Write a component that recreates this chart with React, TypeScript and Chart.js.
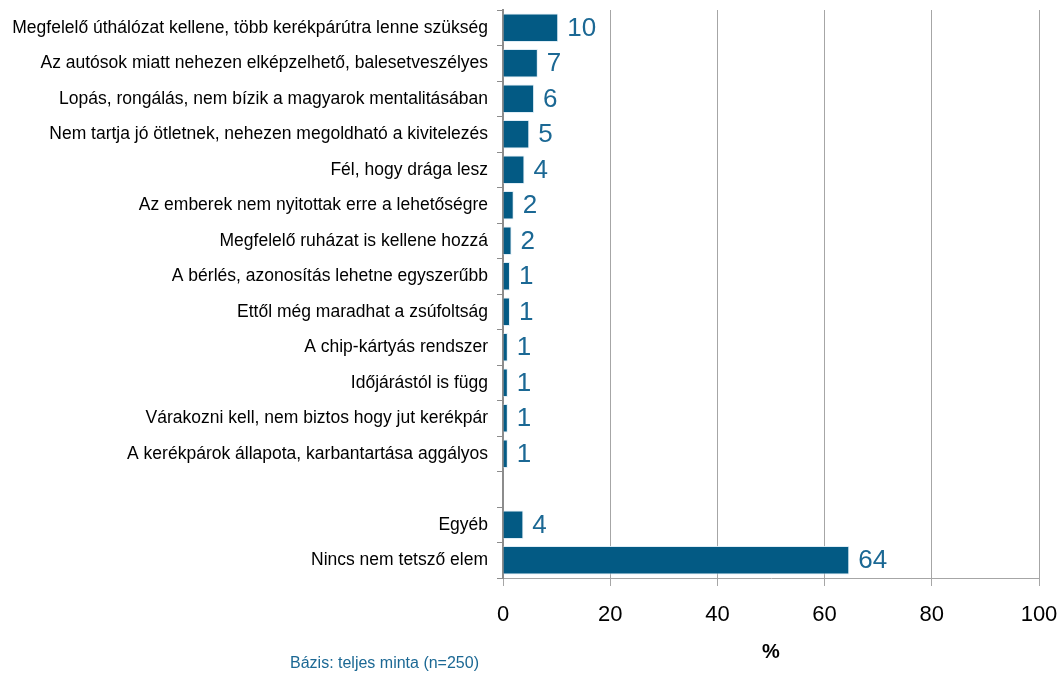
import React, { useEffect, useRef } from "react";
import { Chart, registerables } from "chart.js";

Chart.register(...registerables);

const categories: string[] = [
  "Megfelelő úthálózat kellene, több kerékpárútra lenne szükség",
  "Az autósok miatt nehezen elképzelhető, balesetveszélyes",
  "Lopás, rongálás, nem bízik a magyarok mentalitásában",
  "Nem tartja jó ötletnek, nehezen megoldható a kivitelezés",
  "Fél, hogy drága lesz",
  "Az emberek nem nyitottak erre a lehetőségre",
  "Megfelelő ruházat is kellene hozzá",
  "A bérlés, azonosítás lehetne egyszerűbb",
  "Ettől még maradhat a zsúfoltság",
  "A chip-kártyás rendszer",
  "Időjárástól is függ",
  "Várakozni kell, nem biztos hogy jut kerékpár",
  "A kerékpárok állapota, karbantartása aggályos",
  "",
  "Egyéb",
  "Nincs nem tetsző elem",
];

const values: (number | null)[] = [
  10.3, 6.5, 5.8, 4.9, 4.0, 2.0, 1.6, 1.3, 1.3, 0.9, 0.9, 0.9, 0.9, null, 3.8, 64.6,
];

const valueLabels: string[] = [
  "10", "7", "6", "5", "4", "2", "2", "1", "1", "1", "1", "1", "1", "", "4", "64",
];

const xTicks: number[] = [0, 20, 40, 60, 80, 100];

const footnote = "Bázis: teljes minta (n=250)";
const axisTitle = "%";

const BAR_COLOR = "#035A84";
const LABEL_COLOR = "#1B6894";
const FONT = "Arial, 'Liberation Sans', sans-serif";

export default function App() {
  const ref = useRef<HTMLCanvasElement | null>(null);

  useEffect(() => {
    document.body.style.margin = "0";
    const canvas = ref.current;
    if (!canvas) return;

    const labelPlugin = {
      id: "valueLabels",
      afterDatasetsDraw(chart: any) {
        const ctx = chart.ctx;
        const meta = chart.getDatasetMeta(0);
        ctx.save();
        ctx.font = `26px ${FONT}`;
        ctx.fillStyle = LABEL_COLOR;
        ctx.textAlign = "left";
        ctx.textBaseline = "middle";
        meta.data.forEach((el: any, i: number) => {
          const t = valueLabels[i];
          if (!t || values[i] == null) return;
          ctx.fillText(t, el.x + 9, el.y + 1);
        });
        ctx.restore();
      },
    };

    const footPlugin = {
      id: "footnote",
      afterDraw(chart: any) {
        const ctx = chart.ctx;
        ctx.save();
        ctx.font = `16px ${FONT}`;
        ctx.fillStyle = LABEL_COLOR;
        ctx.textAlign = "left";
        ctx.textBaseline = "middle";
        ctx.fillText(footnote, 290, 664);
        ctx.restore();
      },
    };

    const chart = new Chart(canvas, {
      type: "bar",
      data: {
        labels: categories,
        datasets: [
          {
            data: values as any,
            backgroundColor: BAR_COLOR,
            borderColor: "rgba(220,235,245,0.9)",
            borderWidth: 1,
            barPercentage: 0.8,
            categoryPercentage: 1,
          },
        ],
      },
      options: {
        indexAxis: "y",
        responsive: false,
        animation: false,
        layout: { padding: { top: 10, right: 25, bottom: 6, left: 0 } },
        plugins: {
          legend: { display: false },
          tooltip: { enabled: false },
        },
        scales: {
          x: {
            min: 0,
            max: 100,
            afterBuildTicks(scale: any) {
              scale.ticks = xTicks.map((v) => ({ value: v }));
            },
            afterFit(scale: any) {
              scale.height = 92;
              scale.paddingLeft = 0;
              scale.paddingRight = 0;
            },
            grid: {
              color: "#A6A6A6",
              lineWidth: 1,
              tickLength: 8,
              drawTicks: true,
            },
            border: { color: "#A6A6A6", width: 1 },
            ticks: {
              color: "#000000",
              font: { size: 22, family: FONT },
              padding: 16,
              maxRotation: 0,
            },
            title: {
              display: true,
              text: axisTitle,
              color: "#000000",
              font: { size: 20, weight: "bold", family: FONT },
              padding: { top: 4, bottom: 6 },
            },
          },
          y: {
            afterFit(scale: any) {
              scale.width = 503;
              scale.paddingTop = 0;
              scale.paddingBottom = 0;
            },
            grid: {
              offset: true,
              drawOnChartArea: false,
              drawTicks: true,
              tickLength: 6,
              color: "#8C8C8C",
            },
            border: { color: "#8C8C8C", width: 2 },
            ticks: {
              color: "#000000",
              font: { size: 17.5, family: FONT },
              padding: 9,
              autoSkip: false,
            },
          },
        },
      },
      plugins: [labelPlugin, footPlugin],
    } as any);

    return () => chart.destroy();
  }, []);

  return (
    <div style={{ width: 1064, height: 676, background: "#ffffff" }}>
      <canvas ref={ref} width={1064} height={676} />
    </div>
  );
}
